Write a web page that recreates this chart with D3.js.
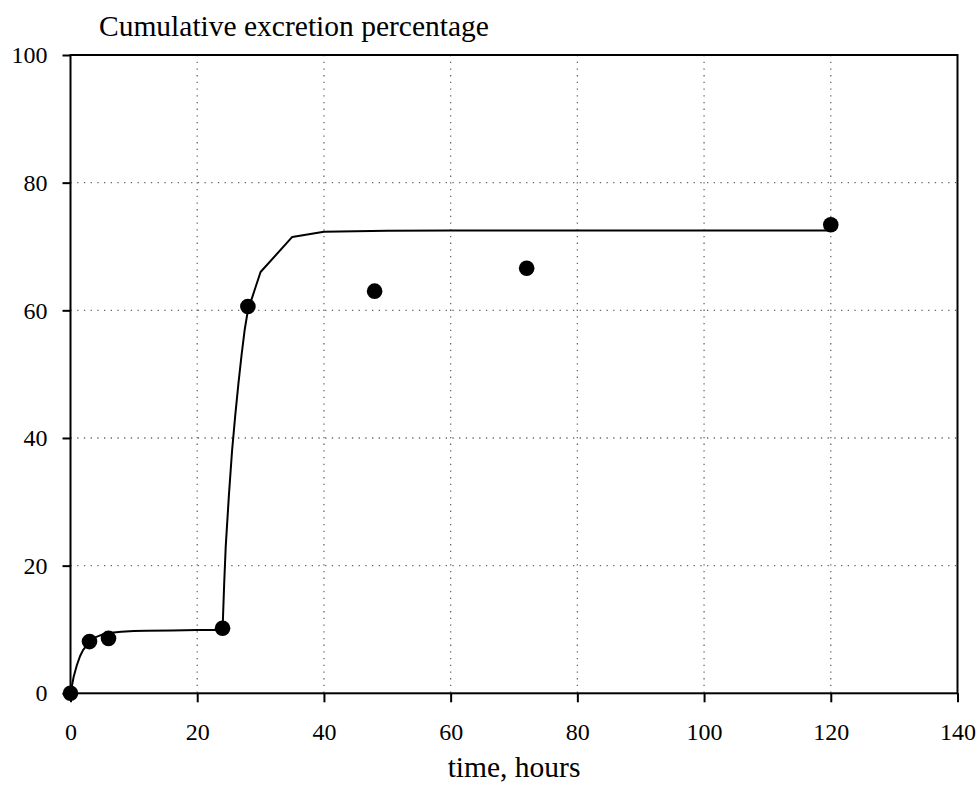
<!DOCTYPE html>
<html>
<head>
<meta charset="utf-8">
<script src="https://cdn.jsdelivr.net/npm/d3@7"></script>
<style>
  html, body { margin: 0; padding: 0; background: #fff; }
  svg text { font-family: "Liberation Serif", "Times New Roman", "DejaVu Serif", serif; }
</style>
</head>
<body>
<svg id="chart" width="978" height="785"></svg>
<script>
// Measured cumulative excretion (% of dose) at each sampling time (hours)
const sampleTimes = [0, 3, 6, 24, 28, 48, 72, 120];
const sampleValues = [0, 8.1, 8.6, 10.2, 60.6, 63.0, 66.6, 73.4];

// Fitted model curve
const curveTimes = [0, 0.5, 1, 1.5, 2, 3, 4, 5, 6, 8, 10, 12, 16, 20, 24,
                    24.25, 24.5, 25, 25.5, 26, 26.5, 27, 27.5, 28, 30, 35, 40, 50, 60, 80, 100, 120];
const curveValues = [0, 2.6, 4.4, 5.8, 6.8, 8.0, 8.8, 9.2, 9.45, 9.65, 9.75, 9.8, 9.85, 9.9, 9.9,
                     17.0, 23.0, 31.0, 38.0, 43.5, 48.5, 53.0, 57.0, 60.0, 66.0, 71.5, 72.3, 72.45, 72.5, 72.5, 72.5, 72.5];

const xTicks = [0, 20, 40, 60, 80, 100, 120, 140];
const yTicks = [0, 20, 40, 60, 80, 100];

const titleText = "Cumulative excretion percentage";
const xLabelText = "time, hours";

const serif = "Liberation Serif, Times New Roman, DejaVu Serif, serif";

const svg = d3.select("#chart");
const plotLeft = 70.5, plotRight = 957.5, plotTop = 55, plotBottom = 693.3;

const x = d3.scaleLinear().domain([0, 140]).range([plotLeft, plotRight]);
const y = d3.scaleLinear().domain([0, 100]).range([plotBottom, plotTop]);

// dotted grid
const grid = svg.append("g")
  .attr("stroke", "#666")
  .attr("stroke-width", 1.3)
  .attr("stroke-dasharray", "1.3,5.4");
grid.selectAll("line.vx")
  .data(xTicks.filter(d => d > 0 && d < 140))
  .join("line")
  .attr("x1", d => x(d)).attr("x2", d => x(d))
  .attr("y1", plotTop).attr("y2", plotBottom);
grid.selectAll("line.hy")
  .data(yTicks.filter(d => d > 0 && d < 100))
  .join("line")
  .attr("x1", plotLeft).attr("x2", plotRight)
  .attr("y1", d => y(d)).attr("y2", d => y(d));

// frame
svg.append("rect")
  .attr("x", plotLeft).attr("y", plotTop)
  .attr("width", plotRight - plotLeft).attr("height", plotBottom - plotTop)
  .attr("fill", "none").attr("stroke", "#000").attr("stroke-width", 2);

// axes
const xAxis = d3.axisBottom(x).tickValues(xTicks).tickSize(9).tickPadding(21).tickSizeOuter(0);
const yAxis = d3.axisLeft(y).tickValues(yTicks).tickSize(8).tickPadding(15).tickSizeOuter(0);

const gx = svg.append("g").attr("transform", `translate(0,${plotBottom})`).call(xAxis);
const gy = svg.append("g").attr("transform", `translate(${plotLeft},0)`).call(yAxis);
[gx, gy].forEach(g => {
  g.attr("font-family", serif).attr("font-size", 24);
  g.select(".domain").remove();
  g.selectAll(".tick line").attr("stroke", "#000").attr("stroke-width", 2);
  g.selectAll(".tick text")
    .attr("fill", "#000")
    .attr("font-family", serif)
    .attr("font-size", 24);
});
gx.selectAll(".tick text").attr("dy", "0.71em");

// model curve
const line = d3.line().x(d => x(d[0])).y(d => y(d[1]));
svg.append("path")
  .datum(d3.zip(curveTimes, curveValues))
  .attr("d", line)
  .attr("fill", "none")
  .attr("stroke", "#000")
  .attr("stroke-width", 2)
  .attr("stroke-linejoin", "round");

// observed points
svg.append("g").selectAll("circle")
  .data(d3.zip(sampleTimes, sampleValues))
  .join("circle")
  .attr("cx", d => x(d[0]))
  .attr("cy", d => y(d[1]))
  .attr("r", 7.8)
  .attr("fill", "#000");

// title and axis label
svg.append("text")
  .attr("x", 99).attr("y", 36)
  .attr("font-family", serif)
  .attr("font-size", 29.5)
  .attr("fill", "#000")
  .text(titleText);

svg.append("text")
  .attr("x", (plotLeft + plotRight) / 2).attr("y", 777)
  .attr("text-anchor", "middle")
  .attr("font-family", serif)
  .attr("font-size", 29.5)
  .attr("fill", "#000")
  .text(xLabelText);
</script>
</body>
</html>
